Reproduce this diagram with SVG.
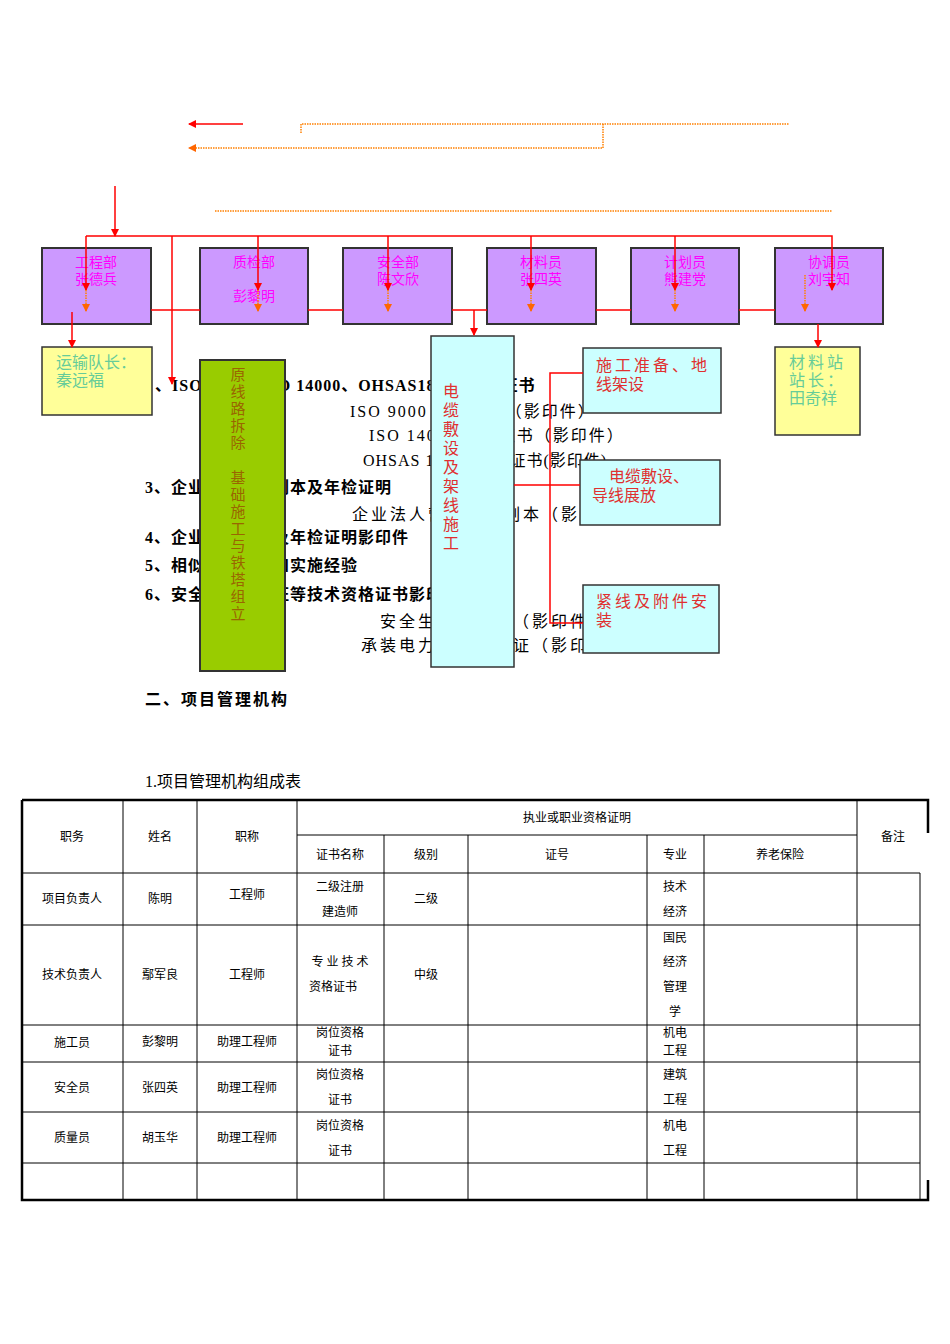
<svg xmlns="http://www.w3.org/2000/svg" width="950" height="1344" viewBox="0 0 950 1344">
<style>
.p{fill:#CC99FF;stroke:#333;stroke-width:2}
.pt{font-family:"Liberation Serif","Noto Sans CJK SC",serif;font-size:14px;fill:#FF00FF}
.bg{font-family:"Liberation Serif","Noto Sans CJK SC",serif;font-size:16px;fill:#000}
.b{font-weight:bold}
.r{stroke:#FF0000;stroke-width:1.5;fill:none}
.o{stroke:#FF8000;stroke-width:1.5;fill:none;stroke-dasharray:1.5 1}
.c{fill:#CCFFFF;stroke:#333;stroke-width:1.5}
.ct{font-family:"Liberation Serif","Noto Sans CJK SC",serif;font-size:16px;fill:#E03030}
.y{fill:#FFFF99;stroke:#333;stroke-width:1.5}
.yt{font-family:"Liberation Serif","Noto Sans CJK SC",serif;font-size:16px;fill:#66CC99}
.tl{stroke:#000;stroke-width:1;fill:none}
.tt{font-family:"Liberation Serif","Noto Sans CJK SC",serif;font-size:12px;fill:#000;text-anchor:middle}
</style>
<defs>
<marker id="ar" markerWidth="8" markerHeight="8" refX="7" refY="4" orient="auto" markerUnits="userSpaceOnUse"><path d="M0,0L8,4L0,8Z" fill="#FF0000"/></marker>
<marker id="ao" markerWidth="8" markerHeight="8" refX="7" refY="4" orient="auto" markerUnits="userSpaceOnUse"><path d="M0,0L8,4L0,8Z" fill="#FF6600"/></marker>
</defs>
<rect width="950" height="1344" fill="#fff"/>
<g id="background-text">
<text class="bg b" x="155" y="391" letter-spacing="1">、ISO 9000、ISO 14000、OHSAS18000 认证证书</text>
<text class="bg" x="350" y="417" letter-spacing="2">ISO 9000 认证证书（影印件）</text>
<text class="bg" x="369" y="441" letter-spacing="2">ISO 14000 认证证书（影印件）</text>
<text class="bg" x="363" y="466" letter-spacing="1">OHSAS 18000 认证证书(影印件)</text>
<text class="bg b" x="145" y="493" letter-spacing="1">3、企业营业执照副本及年检证明</text>
<text class="bg" x="352" y="520" letter-spacing="3">企业法人营业执照副本（影印件）</text>
<text class="bg b" x="145" y="543" letter-spacing="1">4、企业资质证书及年检证明影印件</text>
<text class="bg b" x="145" y="571" letter-spacing="1">5、相似工程业绩和实施经验</text>
<text class="bg b" x="145" y="600" letter-spacing="1">6、安全生产许可证等技术资格证书影印件</text>
<text class="bg" x="380" y="627" letter-spacing="3">安全生产许可证（影印件）</text>
<text class="bg" x="361" y="651" letter-spacing="3">承装电力设施许可证（影印件）</text>
<text class="bg b" x="145" y="705" font-size="19" letter-spacing="2">二、项目管理机构</text>
<text class="bg" x="145" y="787" font-size="15">1.项目管理机构组成表</text>
</g>
<g id="n-gc"><rect class="p" x="42" y="248" width="109" height="76"/><text class="pt" x="96" y="267" text-anchor="middle">工程部</text><text class="pt" x="96" y="284" text-anchor="middle">张德兵</text></g>
<g id="n-zj"><rect class="p" x="200" y="248" width="108" height="76"/><text class="pt" x="254" y="267" text-anchor="middle">质检部</text><text class="pt" x="254" y="301" text-anchor="middle">彭黎明</text></g>
<g id="n-aq"><rect class="p" x="343" y="248" width="109" height="76"/><text class="pt" x="398" y="267" text-anchor="middle">安全部</text><text class="pt" x="398" y="284" text-anchor="middle">陈文欣</text></g>
<g id="n-cl"><rect class="p" x="487" y="248" width="109" height="76"/><text class="pt" x="541" y="267" text-anchor="middle">材料员</text><text class="pt" x="541" y="284" text-anchor="middle">张四英</text></g>
<g id="n-jh"><rect class="p" x="631" y="248" width="108" height="76"/><text class="pt" x="685" y="267" text-anchor="middle">计划员</text><text class="pt" x="685" y="284" text-anchor="middle">熊建党</text></g>
<g id="n-xt"><rect class="p" x="775" y="248" width="108" height="76"/><text class="pt" x="829" y="267" text-anchor="middle">协调员</text><text class="pt" x="829" y="284" text-anchor="middle">刘宇知</text></g>
<g id="n-ys"><rect class="y" x="42" y="347" width="110" height="68"/><text class="yt" x="56" y="368">运输队长：</text><text class="yt" x="56" y="386">秦远福</text></g>
<g id="n-clz"><rect class="y" x="775" y="347" width="85" height="88"/><text class="yt" x="789" y="368" letter-spacing="3">材料站</text><text class="yt" x="789" y="386" letter-spacing="3">站长：</text><text class="yt" x="789" y="404">田奇祥</text></g>
<g id="n-yx"><rect x="200" y="360" width="85" height="311" fill="#99CC00" stroke="#333" stroke-width="2"/>
<text font-family="Liberation Serif,Noto Sans CJK SC,serif" font-size="15" fill="#996600" text-anchor="middle">
<tspan x="238" y="380">原</tspan><tspan x="238" y="397">线</tspan><tspan x="238" y="414">路</tspan><tspan x="238" y="431">拆</tspan><tspan x="238" y="448">除</tspan><tspan x="238" y="483">基</tspan><tspan x="238" y="500">础</tspan><tspan x="238" y="517">施</tspan><tspan x="238" y="534">工</tspan><tspan x="238" y="551">与</tspan><tspan x="238" y="568">铁</tspan><tspan x="238" y="585">塔</tspan><tspan x="238" y="602">组</tspan><tspan x="238" y="619">立</tspan></text></g>
<g id="n-dl"><rect class="c" x="431" y="336" width="83" height="331"/>
<text class="ct" text-anchor="middle"><tspan x="451" y="397">电</tspan><tspan x="451" y="416">缆</tspan><tspan x="451" y="435">敷</tspan><tspan x="451" y="454">设</tspan><tspan x="451" y="473">及</tspan><tspan x="451" y="492">架</tspan><tspan x="451" y="511">线</tspan><tspan x="451" y="530">施</tspan><tspan x="451" y="549">工</tspan></text></g>
<g id="n-sg"><rect class="c" x="583" y="348" width="138" height="65"/><text class="ct" x="596" y="371" letter-spacing="3">施工准备、地</text><text class="ct" x="596" y="390">线架设</text></g>
<g id="n-zf"><rect class="c" x="580" y="460" width="140" height="65"/><text class="ct" x="609" y="482">电缆敷设、</text><text class="ct" x="592" y="501">导线展放</text></g>
<g id="n-jx"><rect class="c" x="583" y="585" width="136" height="68"/><text class="ct" x="596" y="607" letter-spacing="3">紧线及附件安</text><text class="ct" x="596" y="626">装</text></g>
<g id="connectors">
<line class="r" x1="243" y1="124" x2="189" y2="124" marker-end="url(#ar)"/>
<path class="o" d="M301,133V124H789"/>
<path class="o" d="M603,124V148H189" marker-end="url(#ao)"/>
<line class="o" x1="215" y1="211" x2="832" y2="211"/>
<line class="r" x1="115" y1="186" x2="115" y2="236" marker-end="url(#ar)"/>
<path class="r" d="M86,236H832V290" marker-end="url(#ar)"/>
<line class="r" x1="86" y1="236" x2="86" y2="290" marker-end="url(#ar)"/>
<line class="r" x1="172" y1="236" x2="172" y2="384" marker-end="url(#ar)"/>
<line class="r" x1="258" y1="236" x2="258" y2="290" marker-end="url(#ar)"/>
<line class="r" x1="388" y1="236" x2="388" y2="290" marker-end="url(#ar)"/>
<line class="r" x1="531" y1="236" x2="531" y2="290" marker-end="url(#ar)"/>
<line class="r" x1="675" y1="236" x2="675" y2="290" marker-end="url(#ar)"/>
<line class="o" x1="86" y1="290" x2="86" y2="311" marker-end="url(#ao)"/>
<line class="o" x1="258" y1="290" x2="258" y2="311" marker-end="url(#ao)"/>
<line class="o" x1="388" y1="290" x2="388" y2="311" marker-end="url(#ao)"/>
<line class="o" x1="531" y1="290" x2="531" y2="311" marker-end="url(#ao)"/>
<line class="o" x1="675" y1="290" x2="675" y2="311" marker-end="url(#ao)"/>
<line class="o" x1="805" y1="275" x2="805" y2="311" marker-end="url(#ao)"/>
<path class="r" d="M151,310H200M308,310H343M452,310H487M596,310H631M739,310H775"/>
<line class="r" x1="474" y1="310" x2="474" y2="335" marker-end="url(#ar)"/>
<line class="r" x1="72" y1="312" x2="72" y2="347" marker-end="url(#ar)"/>
<line class="r" x1="818" y1="324" x2="818" y2="347" marker-end="url(#ar)"/>
<path class="r" d="M583,373H550V623H583M514,485H580"/>
</g>
<g id="table">
<path class="tl" d="M22,800V1200M123,800V1200M197,800V1200M297,800V1200M384,835V1200M468,835V1200M647,835V1200M704,835V1200M857,800V1200M920,873V1200"/>
<path class="tl" d="M297,835H857M22,873H920M22,925H920M22,1025H920M22,1062H920M22,1112H920M22,1163H920"/>
<path stroke="#000" stroke-width="2.5" fill="none" d="M22,800H928V833M22,800V1200H928V1180"/>
<text class="tt" x="72" y="841">职务</text><text class="tt" x="160" y="841">姓名</text><text class="tt" x="247" y="841">职称</text>
<text class="tt" x="577" y="822">执业或职业资格证明</text><text class="tt" x="893" y="841">备注</text>
<text class="tt" x="340" y="859">证书名称</text><text class="tt" x="426" y="859">级别</text><text class="tt" x="557" y="859">证号</text><text class="tt" x="675" y="859">专业</text><text class="tt" x="780" y="859">养老保险</text>
<text class="tt" x="72" y="903">项目负责人</text><text class="tt" x="160" y="903">陈明</text><text class="tt" x="247" y="899">工程师</text><text class="tt" x="340" y="891">二级注册</text><text class="tt" x="340" y="916">建造师</text><text class="tt" x="426" y="903">二级</text><text class="tt" x="675" y="891">技术</text><text class="tt" x="675" y="916">经济</text>
<text class="tt" x="72" y="979">技术负责人</text><text class="tt" x="160" y="979">鄢军良</text><text class="tt" x="247" y="979">工程师</text><text class="tt" x="340" y="966">专 业 技 术</text><text class="tt" x="333" y="991">资格证书</text><text class="tt" x="426" y="979">中级</text>
<text class="tt" x="675" y="942">国民</text><text class="tt" x="675" y="966">经济</text><text class="tt" x="675" y="991">管理</text><text class="tt" x="675" y="1016">学</text>
<text class="tt" x="72" y="1047">施工员</text><text class="tt" x="160" y="1046">彭黎明</text><text class="tt" x="247" y="1046">助理工程师</text><text class="tt" x="340" y="1037">岗位资格</text><text class="tt" x="340" y="1055">证书</text><text class="tt" x="675" y="1037">机电</text><text class="tt" x="675" y="1055">工程</text>
<text class="tt" x="72" y="1092">安全员</text><text class="tt" x="160" y="1092">张四英</text><text class="tt" x="247" y="1092">助理工程师</text><text class="tt" x="340" y="1079">岗位资格</text><text class="tt" x="340" y="1104">证书</text><text class="tt" x="675" y="1079">建筑</text><text class="tt" x="675" y="1104">工程</text>
<text class="tt" x="72" y="1142">质量员</text><text class="tt" x="160" y="1142">胡玉华</text><text class="tt" x="247" y="1142">助理工程师</text><text class="tt" x="340" y="1130">岗位资格</text><text class="tt" x="340" y="1155">证书</text><text class="tt" x="675" y="1130">机电</text><text class="tt" x="675" y="1155">工程</text>
</g>
</svg>
